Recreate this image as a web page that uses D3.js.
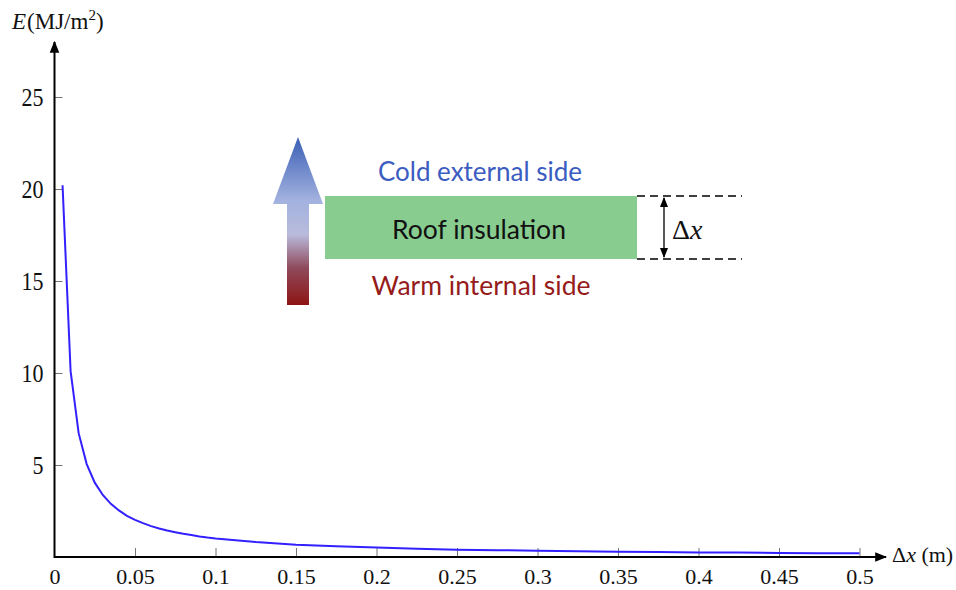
<!DOCTYPE html>
<html>
<head>
<meta charset="utf-8">
<script src="https://cdn.jsdelivr.net/npm/d3@7"></script>
<style>
  body { margin: 0; background: #fff; }
  .tick line { stroke: #777; stroke-width: 1px; }
  .tick text { font-family: "Liberation Serif", serif; font-size: 22px; fill: #111; }
</style>
</head>
<body>
<div id="chart"></div>
<script>
// thickness of insulation (m) and energy (MJ/m2)
const thickness = [0.005, 0.01, 0.015, 0.02, 0.025, 0.03, 0.035, 0.04, 0.045, 0.05,
  0.055, 0.06, 0.065, 0.07, 0.075, 0.08, 0.085, 0.09, 0.095, 0.1,
  0.125, 0.15, 0.175, 0.2, 0.225, 0.25, 0.275, 0.3, 0.325, 0.35,
  0.375, 0.4, 0.425, 0.45, 0.475, 0.5];
const energy = [20.2, 10.1, 6.73, 5.05, 4.04, 3.37, 2.89, 2.53, 2.24, 2.02,
  1.84, 1.68, 1.55, 1.44, 1.35, 1.26, 1.19, 1.12, 1.06, 1.01,
  0.81, 0.67, 0.58, 0.51, 0.45, 0.40, 0.37, 0.34, 0.31, 0.29,
  0.27, 0.25, 0.24, 0.22, 0.21, 0.20];
const xTicks = [0, 0.05, 0.1, 0.15, 0.2, 0.25, 0.3, 0.35, 0.4, 0.45, 0.5];
const yTicks = [5, 10, 15, 20, 25];

const width = 956, height = 590;

const svg = d3.select("#chart").append("svg")
    .attr("width", width)
    .attr("height", height);

const x = d3.scaleLinear().domain([0, 0.5]).range([54.5, 859.5]);
const y = d3.scaleLinear().domain([0, 25]).range([557, 97]);

const defs = svg.append("defs");
defs.append("marker")
    .attr("id", "axisArrow")
    .attr("viewBox", "0 0 10 10")
    .attr("refX", 9).attr("refY", 5)
    .attr("markerWidth", 6).attr("markerHeight", 6)
    .attr("markerUnits", "strokeWidth")
    .attr("orient", "auto")
    .append("path").attr("d", "M0,1L10,5L0,9Z").attr("fill", "#000");

defs.append("marker")
    .attr("id", "dimArrow")
    .attr("viewBox", "0 0 10 10")
    .attr("refX", 9).attr("refY", 5)
    .attr("markerWidth", 8).attr("markerHeight", 8)
    .attr("markerUnits", "strokeWidth")
    .attr("orient", "auto-start-reverse")
    .append("path").attr("d", "M0,1L10,5L0,9Z").attr("fill", "#000");

// axes (ticks point inward)
const xAxis = svg.append("g")
    .attr("transform", "translate(0," + y(0) + ")")
    .call(d3.axisBottom(x).tickValues(xTicks).tickSize(-9).tickPadding(11).tickFormat(d3.format("")));
xAxis.select(".domain").remove();
xAxis.selectAll(".tick").filter(d => d === 0).select("line").remove();

const yAxis = svg.append("g")
    .attr("transform", "translate(" + x(0) + ",0)")
    .call(d3.axisLeft(y).tickValues(yTicks).tickSize(-8).tickPadding(11));
yAxis.select(".domain").remove();
// y labels are drawn a little taller in the figure
yAxis.selectAll(".tick text").attr("transform", "scale(1,1.15)");

svg.append("line")
    .attr("x1", x(0)).attr("y1", y(0))
    .attr("x2", 886).attr("y2", y(0))
    .attr("stroke", "#000").attr("stroke-width", 2)
    .attr("marker-end", "url(#axisArrow)");

svg.append("line")
    .attr("x1", x(0)).attr("y1", y(0) + 1)
    .attr("x2", x(0)).attr("y2", 42)
    .attr("stroke", "#000").attr("stroke-width", 2)
    .attr("marker-end", "url(#axisArrow)");

// axis titles
const yTitle = svg.append("text")
    .attr("x", 12).attr("y", 29)
    .attr("font-family", "Liberation Serif, serif")
    .attr("font-size", 23)
    .attr("fill", "#111");
yTitle.append("tspan").attr("font-style", "italic").text("E");
yTitle.append("tspan").attr("dx", 1).text("(MJ/m");
yTitle.append("tspan").attr("font-size", 15).attr("dy", -9).text("2");
yTitle.append("tspan").attr("dy", 9).text(")");

const xTitle = svg.append("text")
    .attr("x", 892).attr("y", 562)
    .attr("font-family", "Liberation Serif, serif")
    .attr("font-size", 22)
    .attr("fill", "#111");
xTitle.append("tspan").text("Δ");
xTitle.append("tspan").attr("font-style", "italic").text("x");
xTitle.append("tspan").text(" (m)");

// energy curve
const data = thickness.map((t, i) => ({ t: t, e: energy[i] }));
const line = d3.line()
    .x(d => x(d.t))
    .y(d => y(d.e));

svg.append("path")
    .datum(data)
    .attr("d", line)
    .attr("fill", "none")
    .attr("stroke", "#3320ff")
    .attr("stroke-width", 2);

// roof insulation sketch
const grad = defs.append("linearGradient")
    .attr("id", "heatFlow")
    .attr("x1", 0).attr("y1", 1).attr("x2", 0).attr("y2", 0);
grad.append("stop").attr("offset", "0%").attr("stop-color", "#8e1414");
grad.append("stop").attr("offset", "22%").attr("stop-color", "#8f4a5c");
grad.append("stop").attr("offset", "42%").attr("stop-color", "#b9bbdc");
grad.append("stop").attr("offset", "62%").attr("stop-color", "#a3b2df");
grad.append("stop").attr("offset", "100%").attr("stop-color", "#3a5fb5");

const arrow = [[287, 305], [309, 305], [309, 204], [323, 204], [298, 137], [273, 204], [287, 204]];
svg.append("path")
    .attr("d", d3.line()(arrow) + "Z")
    .attr("fill", "url(#heatFlow)");

svg.append("rect")
    .attr("x", 325).attr("y", 196)
    .attr("width", 312).attr("height", 63)
    .attr("fill", "#88cc90");

svg.append("text")
    .attr("x", 479).attr("y", 229)
    .attr("text-anchor", "middle").attr("dominant-baseline", "central")
    .attr("font-family", "Lato, sans-serif").attr("font-size", 26.5)
    .attr("fill", "#111")
    .text("Roof insulation");

svg.append("text")
    .attr("x", 480).attr("y", 171)
    .attr("text-anchor", "middle").attr("dominant-baseline", "central")
    .attr("font-family", "Lato, sans-serif").attr("font-size", 26)
    .attr("fill", "#3b5cc0")
    .text("Cold external side");

svg.append("text")
    .attr("x", 481).attr("y", 285)
    .attr("text-anchor", "middle").attr("dominant-baseline", "central")
    .attr("font-family", "Lato, sans-serif").attr("font-size", 26.5)
    .attr("fill", "#961b1b")
    .text("Warm internal side");

[196, 259].forEach(yy => {
  svg.append("line")
      .attr("x1", 637).attr("x2", 742)
      .attr("y1", yy).attr("y2", yy)
      .attr("stroke", "#000").attr("stroke-width", 1.5)
      .attr("stroke-dasharray", "8,5");
});

svg.append("line")
    .attr("x1", 664).attr("x2", 664)
    .attr("y1", 198).attr("y2", 257)
    .attr("stroke", "#000").attr("stroke-width", 1.3)
    .attr("marker-start", "url(#dimArrow)")
    .attr("marker-end", "url(#dimArrow)");

const dx = svg.append("text")
    .attr("x", 672).attr("y", 239)
    .attr("font-family", "Liberation Serif, serif").attr("font-size", 28)
    .attr("fill", "#111");
dx.append("tspan").text("Δ");
dx.append("tspan").attr("font-style", "italic").text("x");
</script>
</body>
</html>
